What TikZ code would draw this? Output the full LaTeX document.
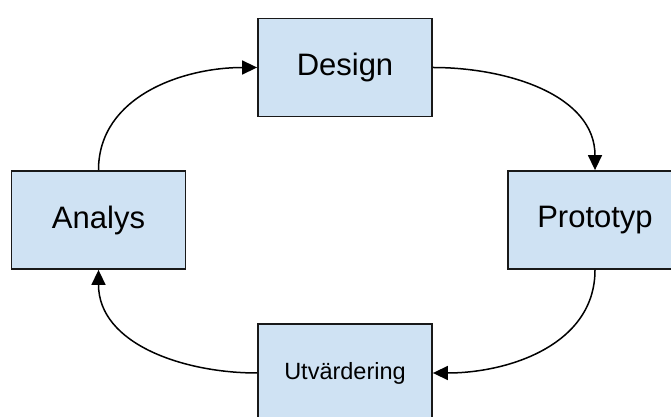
\documentclass[tikz,border=0pt]{standalone}
\usepackage{fontspec}
\setmainfont{Liberation Sans}
\usepackage{tikz}
\usetikzlibrary{arrows.meta}
\definecolor{boxblue}{HTML}{CFE2F3}

\begin{document}
\begin{tikzpicture}[x=1pt, y=1pt]
\tikzstyle{stage}=[rectangle, draw=black!90, line width=1.8pt, fill=boxblue, minimum width=174pt, minimum height=98pt, inner sep=0pt, font=\fontsize{31}{36}\selectfont]
\tikzstyle{small}=[font=\fontsize{23.5}{28}\selectfont]
\tikzstyle{connect}=[-{Triangle[length=15pt, width=14pt]}, line width=1.5pt]

  \useasboundingbox (0,0) rectangle (671,417);

  \node[stage] (des) at (345,349.5) {Design};
  \node[stage] (ana) [below of=des, node distance=152.5pt, xshift=-246.5pt] {Analys};
  \node[stage] (pro) [below of=des, node distance=152.5pt, xshift=250pt] {Prototyp};
  \node[stage, small] (utv) [below of=des, node distance=305.5pt] {Utvärdering};

  \path (ana.north) edge [connect, out=90, in=180] (des.west)
        (des.east) edge [connect, out=0, in=90] (pro.north)
        (pro.south) edge [connect, out=-90, in=0] (utv.east)
        (utv.west) edge [connect, out=180, in=-90] (ana.south);

\end{tikzpicture}
\end{document}
